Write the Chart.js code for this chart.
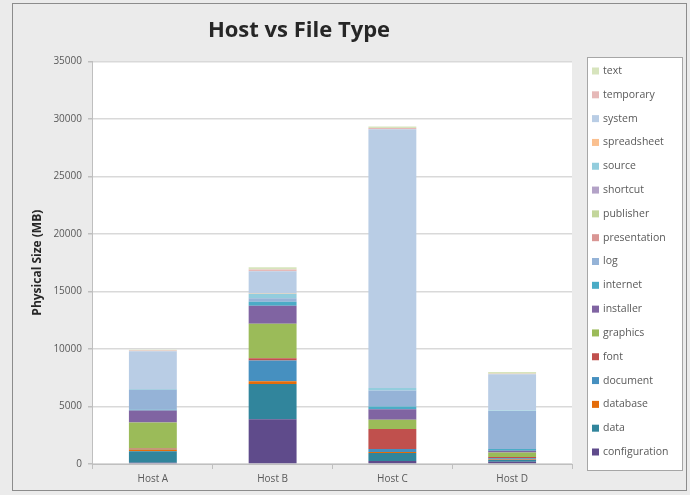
<!DOCTYPE html>
<html>
<head>
<meta charset="utf-8">
<script src="https://cdn.jsdelivr.net/npm/chart.js@4.4.0/dist/chart.umd.min.js"></script>
<style>
  html, body { margin: 0; padding: 0; background: #ebebeb; }
  #wrap { width: 690px; height: 495px; position: relative; }
</style>
</head>
<body>
<div id="wrap"><canvas id="chart"></canvas></div>
<script>
// data (MB)
const hosts = ['Host A', 'Host B', 'Host C', 'Host D'];
const configuration = [100, 3900, 250, 200];
const data = [1000, 3050, 700, 150];
const database = [150, 250, 100, 50];
const documentSize = [50, 1800, 250, 100];
const font = [50, 200, 1750, 100];
const graphics = [2250, 3000, 800, 400];
const installer = [1050, 1550, 900, 150];
const internet = [60, 350, 250, 150];
const log = [1750, 300, 1400, 3300];
const presentation = [0, 0, 0, 0];
const publisher = [0, 0, 0, 0];
const shortcut = [0, 0, 0, 0];
const source = [50, 400, 200, 50];
const spreadsheet = [0, 50, 0, 0];
const system = [3300, 1900, 22500, 3150];
const temporary = [50, 150, 100, 50];
const text = [80, 200, 150, 150];

const yTicks = [0, 5000, 10000, 15000, 20000, 25000, 30000, 35000];

const series = [
  ['configuration', configuration, '#5f4b8b'],
  ['data', data, '#31859c'],
  ['database', database, '#e46c0a'],
  ['document', documentSize, '#4690c0'],
  ['font', font, '#c0504d'],
  ['graphics', graphics, '#9bbb59'],
  ['installer', installer, '#8064a2'],
  ['internet', internet, '#4bacc6'],
  ['log', log, '#95b3d7'],
  ['presentation', presentation, '#d99694'],
  ['publisher', publisher, '#c3d69b'],
  ['shortcut', shortcut, '#b3a2c7'],
  ['source', source, '#93cddd'],
  ['spreadsheet', spreadsheet, '#fac090'],
  ['system', system, '#b9cde5'],
  ['temporary', temporary, '#e6b9b8'],
  ['text', text, '#d7e4bd']
];

const FONT = "'Open Sans', 'DejaVu Sans', sans-serif";

// gray frame, white plot area, boxed legend on the right
const frame = {
  id: 'frame',
  beforeDraw(chart) {
    const { ctx, chartArea: a } = chart;
    ctx.save();
    ctx.fillStyle = '#ebebeb';
    ctx.fillRect(0, 0, chart.width, chart.height);
    ctx.strokeStyle = '#8c8c8c';
    ctx.lineWidth = 1;
    ctx.strokeRect(12.5, 3.5, chart.width - 16, chart.height - 8);
    ctx.fillStyle = '#ffffff';
    ctx.fillRect(a.left, a.top, a.right - a.left, a.bottom - a.top);
    ctx.restore();
  },
  afterDraw(chart) {
    const ctx = chart.ctx;
    const left = 587, top = 57, right = 682, bottom = 470;
    ctx.save();
    ctx.fillStyle = '#ffffff';
    ctx.fillRect(left, top, right - left, bottom - top);
    ctx.strokeStyle = '#a6a6a6';
    ctx.lineWidth = 1;
    ctx.strokeRect(left + 0.5, top + 0.5, right - left, bottom - top);
    const items = chart.data.datasets.slice().reverse();
    const step = (452 - 71) / (items.length - 1);
    ctx.font = '10.5px ' + FONT;
    ctx.textBaseline = 'middle';
    items.forEach((ds, i) => {
      const y = 71 + i * step;
      ctx.fillStyle = ds.backgroundColor;
      ctx.fillRect(592, y - 3.5, 7, 7);
      ctx.fillStyle = '#595959';
      ctx.fillText(ds.label, 603, y);
    });
    ctx.restore();
  }
};

new Chart(document.getElementById('chart'), {
  type: 'bar',
  data: {
    labels: hosts,
    datasets: series.map(([label, values, color]) => ({
      label: label,
      data: values,
      backgroundColor: color,
      borderWidth: 0,
      barPercentage: 0.4,
      categoryPercentage: 1.0
    }))
  },
  options: {
    responsive: true,
    maintainAspectRatio: false,
    animation: false,
    layout: { padding: { left: 26, right: 118, top: 4, bottom: 6 } },
    plugins: {
      legend: { display: false },
      tooltip: { enabled: false },
      title: {
        display: true,
        text: 'Host vs File Type',
        color: '#262626',
        font: { family: FONT, size: 22, weight: 'bold' },
        padding: { top: 14, bottom: 17 }
      }
    },
    scales: {
      x: {
        stacked: true,
        grid: { display: true, drawOnChartArea: false, color: '#bfbfbf', tickLength: 5, offset: true },
        border: { color: '#bfbfbf' },
        ticks: { color: '#595959', font: { family: FONT, size: 10 }, padding: 4 }
      },
      y: {
        stacked: true,
        min: 0,
        max: 35000,
        afterBuildTicks(axis) { axis.ticks = yTicks.map(v => ({ value: v })); },
        grid: { color: '#d9d9d9', lineWidth: 1.5, tickLength: 5, tickColor: '#bfbfbf' },
        border: { color: '#bfbfbf' },
        ticks: {
          color: '#595959',
          font: { family: FONT, size: 10 },
          padding: 6,
          callback: v => String(v)
        },
        title: {
          display: true,
          text: 'Physical Size (MB)',
          color: '#262626',
          font: { family: FONT, size: 12, weight: 'bold' },
          padding: { bottom: 3 }
        }
      }
    }
  },
  plugins: [frame]
});
</script>
</body>
</html>
